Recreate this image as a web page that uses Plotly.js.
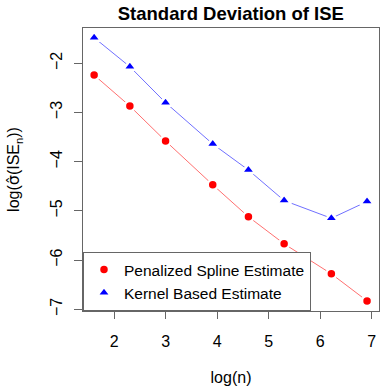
<!DOCTYPE html>
<html>
<head>
<meta charset="utf-8">
<script src="https://cdn.plot.ly/plotly-3.0.1.min.js"></script>
<style>
  html, body { margin: 0; padding: 0; background: #fff; }
  #chart { width: 388px; height: 388px; }
</style>
</head>
<body>
<div id="chart"></div>
<script>
// sample sizes n = 5 ... 1000, plotted on log scale
var logN = [1.609, 2.303, 2.996, 3.912, 4.605, 5.298, 6.215, 6.908];
var splineSD = [-2.24, -2.87, -3.58, -4.47, -5.12, -5.67, -6.28, -6.83];
var kernelSD = [-1.48, -2.07, -2.80, -3.64, -4.17, -4.79, -5.15, -4.81];
var xTicks = [2, 3, 4, 5, 6, 7];
var yTicks = [-7, -6, -5, -4, -3, -2];

var font = "Liberation Sans, Arial, Helvetica, sans-serif";
var boxCol = "#666";

// connecting lines (kept out of the legend, like R's type="b")
var splineLine = {
  x: logN, y: splineSD, type: "scatter", mode: "lines",
  line: { color: "#ff7070", width: 1 }, showlegend: false, hoverinfo: "skip"
};
var kernelLine = {
  x: logN, y: kernelSD, type: "scatter", mode: "lines",
  line: { color: "#7070ff", width: 1 }, showlegend: false, hoverinfo: "skip"
};

var spline = {
  x: logN, y: splineSD, type: "scatter", mode: "markers",
  name: "Penalized Spline Estimate",
  marker: { symbol: "circle", size: 10, color: "#ff0000",
            line: { color: "#fff", width: 2.5 } }
};
var kernel = {
  x: logN, y: kernelSD, type: "scatter", mode: "markers",
  name: "Kernel Based Estimate",
  marker: { symbol: "triangle-up", size: 12, color: "#0000ff",
            line: { color: "#fff", width: 2.5 } }
};

var layout = {
  width: 388, height: 388,
  margin: { l: 83, r: 9, t: 28, b: 77 },
  paper_bgcolor: "#fff", plot_bgcolor: "#fff",
  font: { family: font, size: 16, color: "#000" },
  title: {
    text: "<b>Standard Deviation of ISE</b>",
    font: { family: font, size: 18.5 },
    x: 0.595, xanchor: "center", y: 0.964, yanchor: "middle"
  },
  showlegend: true,
  legend: {
    x: 0, y: 0, xanchor: "left", yanchor: "bottom",
    bordercolor: boxCol, borderwidth: 1, bgcolor: "#fff",
    font: { family: font, size: 15.5 },
    itemwidth: 30, tracegroupgap: 0
  },
  xaxis: {
    range: [1.393, 7.14],
    tickvals: xTicks, ticks: "outside", ticklen: 7, tickcolor: boxCol,
    ticklabelstandoff: 9,
    showgrid: false, zeroline: false,
    showline: true, linecolor: boxCol, linewidth: 1, mirror: true,
    title: { text: "log(n)", font: { size: 16 }, standoff: 22 }
  },
  yaxis: {
    range: [-7.035, -1.283],
    tickvals: yTicks, ticks: "outside", ticklen: 8, tickcolor: boxCol,
    tickangle: -90, ticklabelstandoff: 6,
    showgrid: false, zeroline: false,
    showline: true, linecolor: boxCol, linewidth: 1, mirror: true,
    title: {
      text: "log(<span style=\"font-family:DejaVu Sans\">σ\u0302</span>(ISE<sub>n</sub>))",
      font: { size: 16 }, standoff: 23
    }
  }
};

Plotly.newPlot("chart", [splineLine, kernelLine, spline, kernel], layout,
  { staticPlot: true, displayModeBar: false });
</script>
</body>
</html>
